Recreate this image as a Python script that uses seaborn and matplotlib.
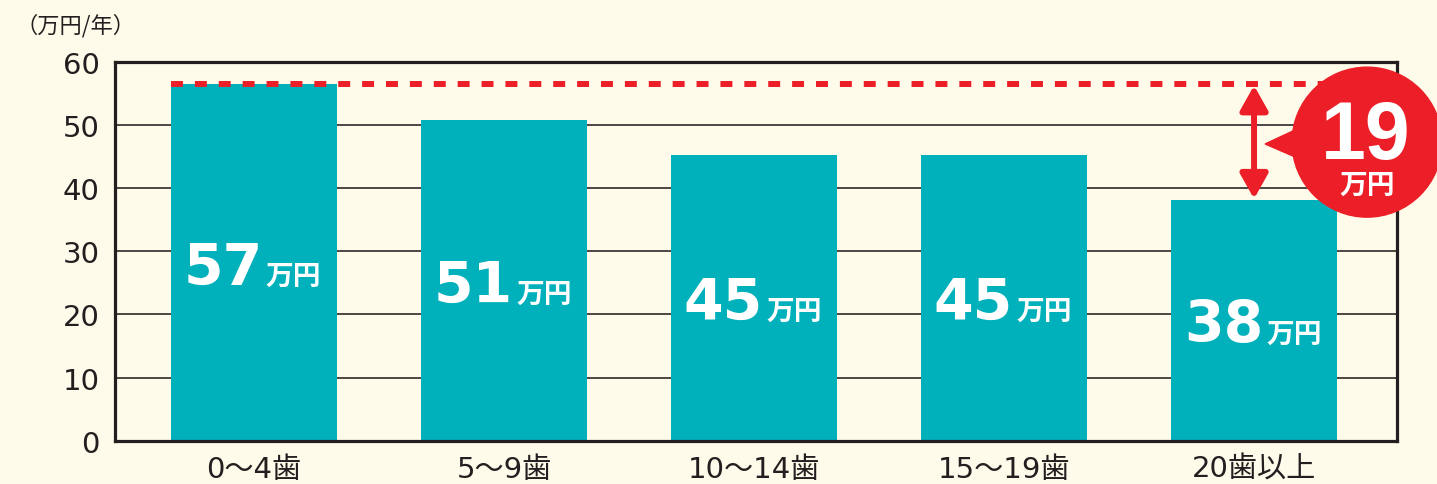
import matplotlib
matplotlib.use("Agg")
import matplotlib.pyplot as plt
from matplotlib.patches import Circle, Polygon
import seaborn as sns

# data
ages = ["0～4歯", "5～9歯", "10～14歯", "15～19歯", "20歯以上"]
bar_heights = [56.5, 50.8, 45.2, 45.2, 38.1]   # drawn bar heights (万円/年)
label_values = [57, 51, 45, 45, 38]            # rounded values printed on bars
y_ticks = [0, 10, 20, 30, 40, 50, 60]

BG = "#FFFBEA"
TEAL = "#00B0BB"
RED = "#EC1F28"
DARK = "#231F20"

sns.set_theme(style="white")
plt.rcParams["font.family"] = ["DejaVu Sans", "Noto Sans CJK JP"]

fig = plt.figure(figsize=(14.37, 4.85), dpi=100, facecolor=BG)
ax = fig.add_axes([0.0800, 0.0893, 0.8922, 0.7808])
ax.set_facecolor(BG)

bar_w = 0.664
sns.barplot(x=ages, y=bar_heights, color=TEAL, saturation=1, width=bar_w,
            linewidth=0, ax=ax, zorder=2)

ax.set_xlim(-0.556, 4.572)
ax.set_ylim(0, 60)
ax.set_yticks(y_ticks)
ax.set_xlabel("")
ax.set_ylabel("")
ax.yaxis.grid(True, color="#3C3A37", lw=1.3)
ax.xaxis.grid(False)
ax.set_axisbelow(True)
for s in ax.spines.values():
    s.set_visible(True)
    s.set_color(DARK)
    s.set_linewidth(2.3)
ax.tick_params(axis="y", length=0, pad=11, labelsize=21, labelcolor=DARK)
ax.tick_params(axis="x", length=0, pad=10, labelsize=21, labelcolor=DARK)

# value labels inside bars
for i, (h, v) in enumerate(zip(bar_heights, label_values)):
    ax.annotate(str(v), xy=(i, h / 2), xytext=(9, -21), textcoords="offset pixels",
                ha="right", va="baseline", fontsize=41, fontweight="bold",
                color="white", family=["DejaVu Sans"], zorder=4)
    ax.annotate("万円", xy=(i, h / 2), xytext=(12, -21), textcoords="offset pixels",
                ha="left", va="baseline", fontsize=20, fontweight="bold",
                color="white", family=["Noto Sans CJK JP"], zorder=4)

# dashed reference line at the top bar
top = max(bar_heights)
low = bar_heights[-1]
ax.hlines(top, -bar_w / 2, len(ages) - 1 + bar_w / 2, colors=RED, linewidth=4.3,
          linestyles=(0, (2, 2)), zorder=3)

# double arrow showing the gap
ax.annotate("", xy=(len(ages) - 1, low), xytext=(len(ages) - 1, top),
            arrowprops=dict(arrowstyle="<|-|>,head_length=0.75,head_width=0.42",
                            color=RED, lw=4.3, shrinkA=1, shrinkB=1,
                            mutation_scale=20), zorder=4)

# callout bubble with the difference
mid = (top + low) / 2
px, py = ax.transData.transform((len(ages) - 1, mid))
dpi = fig.dpi
pointer = Polygon([((px + 11) / dpi, (py - 1.8) / dpi),
                   ((px + 60) / dpi, (py + 21) / dpi),
                   ((px + 60) / dpi, (py - 23) / dpi)],
                  closed=True, transform=fig.dpi_scale_trans, color=RED, zorder=5)
bubble = Circle(((px + 113) / dpi, py / dpi), 0.75, transform=fig.dpi_scale_trans,
                color=RED, zorder=5)
fig.add_artist(pointer)
fig.add_artist(bubble)
diff = label_values[0] - label_values[-1]
fig.text((px + 112) / dpi, (py - 16) / dpi, str(diff), transform=fig.dpi_scale_trans,
         ha="center", va="baseline", fontsize=58, fontweight="bold",
         family=["Liberation Sans"], color="white", zorder=6)
fig.text((px + 113) / dpi, (py - 43) / dpi, "万円", transform=fig.dpi_scale_trans,
         ha="center", va="center", fontsize=20, fontweight="bold",
         family=["Noto Sans CJK JP"], color="white", zorder=6)

# unit label
fig.text(0.011, 1 - 26 / 485, "（万円/年）", ha="left", va="center", fontsize=16,
         family=["Noto Sans CJK JP", "DejaVu Sans"], color=DARK)

fig.savefig("out.png", dpi=100, facecolor=BG)
